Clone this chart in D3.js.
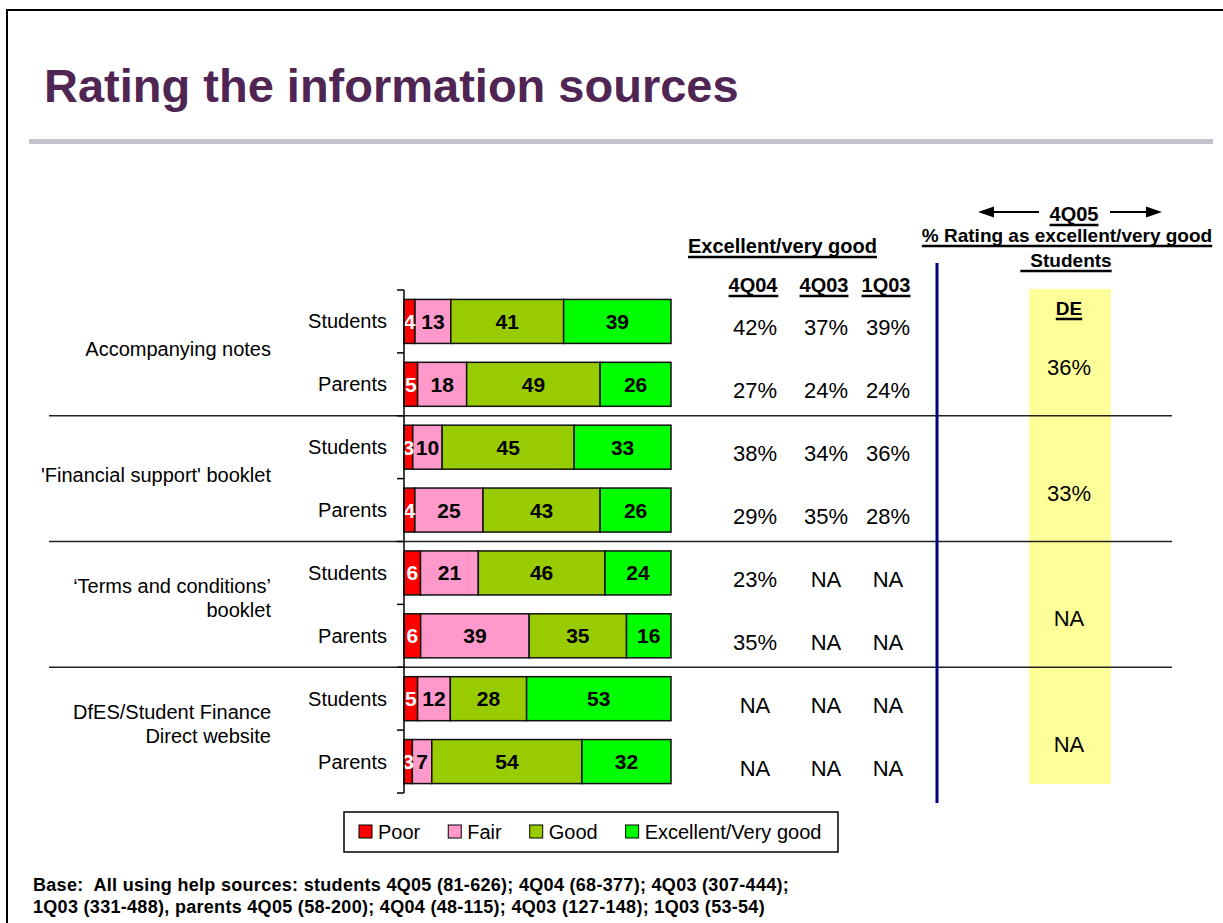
<!DOCTYPE html>
<html>
<head>
<meta charset="utf-8">
<script src="https://cdn.jsdelivr.net/npm/d3@7"></script>
<style>
  body { margin: 0; background: #fff; }
  svg { display: block; font-family: Arial, "Liberation Sans", sans-serif; }
</style>
</head>
<body>
<svg></svg>
<script>
// chart values
const sourceLines = [
  ["Accompanying notes"],
  ["'Financial support' booklet"],
  ["\u2018Terms and conditions\u2019", "booklet"],
  ["DfES/Student Finance", "Direct website"]
];
const respondents = ["Students", "Parents"];
const ratings = ["Poor", "Fair", "Good", "Excellent/Very good"];
const poor = [4, 5, 3, 4, 6, 6, 5, 3];
const fair = [13, 18, 10, 25, 21, 39, 12, 7];
const good = [41, 49, 45, 43, 46, 35, 28, 54];
const excellent = [39, 26, 33, 26, 24, 16, 53, 32];

const waves = ["4Q04", "4Q03", "1Q03"];
const wave4Q04 = ["42%", "27%", "38%", "29%", "23%", "35%", "NA", "NA"];
const wave4Q03 = ["37%", "24%", "34%", "35%", "NA", "NA", "NA", "NA"];
const wave1Q03 = ["39%", "24%", "36%", "28%", "NA", "NA", "NA", "NA"];
const studentsDE = ["36%", "33%", "NA", "NA"];

const footnote = [
  "Base:\u00a0 All using help sources: students 4Q05 (81-626); 4Q04 (68-377); 4Q03 (307-444);",
  "1Q03 (331-488), parents 4Q05 (58-200); 4Q04 (48-115); 4Q03 (127-148); 1Q03 (53-54)"
];

const width = 1223;
const height = 923;

const svg = d3.select('svg')
  .attr('width', width)
  .attr('height', height);

// slide frame
svg.append('path')
  .attr('d', `M7,${height + 5}V10H${width + 5}`)
  .attr('fill', 'none')
  .attr('stroke', '#000')
  .attr('stroke-width', 2);

svg.append('text')
  .attr('x', 44)
  .attr('y', 102)
  .attr('fill', '#4f2553')
  .attr('font-size', 47)
  .attr('font-weight', 'bold')
  .text('Rating the information sources');

svg.append('rect')
  .attr('x', 29)
  .attr('y', 139)
  .attr('width', 1184)
  .attr('height', 5)
  .attr('fill', '#c2c2cc');

const rows = poor.map((p, i) => ({
  row: i,
  group: Math.floor(i / 2),
  who: respondents[i % 2],
  "Poor": p,
  "Fair": fair[i],
  "Good": good[i],
  "Excellent/Very good": excellent[i]
}));

const x = d3.scaleLinear().domain([0, 1]).range([404, 671]);
const y = d3.scaleBand()
  .domain(d3.range(rows.length))
  .range([290, 793])
  .paddingInner(0.3)
  .paddingOuter(0.15);
const color = d3.scaleOrdinal()
  .domain(ratings)
  .range(['#ff0000', '#ff99cc', '#99cc00', '#00ff00']);

const series = d3.stack().keys(ratings).offset(d3.stackOffsetExpand)(rows);

const y0 = y.range()[0];
const bounds = d3.range(rows.length + 1).map(i => y0 + i * y.step());
const groupMid = d3.range(sourceLines.length).map(g => (bounds[2 * g] + bounds[2 * g + 2]) / 2);
const rowMid = i => y(i) + y.bandwidth() / 2;

// group separators
svg.append('g')
  .selectAll('line')
  .data([2, 4, 6])
  .enter()
  .append('line')
  .attr('x1', 49)
  .attr('x2', 1172)
  .attr('y1', d => bounds[d])
  .attr('y2', d => bounds[d])
  .attr('stroke', '#222')
  .attr('stroke-width', 1.5);

// yellow DE column
svg.append('rect')
  .attr('x', 1029)
  .attr('y', 289)
  .attr('width', 82)
  .attr('height', 495)
  .attr('fill', '#ffff99');

// redraw separators over the yellow box
svg.append('g')
  .selectAll('line')
  .data([2, 4, 6])
  .enter()
  .append('line')
  .attr('x1', 1029)
  .attr('x2', 1111)
  .attr('y1', d => bounds[d])
  .attr('y2', d => bounds[d])
  .attr('stroke', '#222')
  .attr('stroke-width', 1.5);

// bars
const barGroup = svg.append('g');
barGroup.selectAll('g')
  .data(series)
  .enter()
  .append('g')
  .attr('fill', d => color(d.key))
  .selectAll('rect')
  .data(d => d)
  .enter()
  .append('rect')
  .attr('x', d => x(d[0]))
  .attr('y', d => y(d.data.row))
  .attr('width', d => x(d[1]) - x(d[0]))
  .attr('height', y.bandwidth())
  .attr('stroke', '#111')
  .attr('stroke-width', 1.5);

const labelGroup = svg.append('g')
  .attr('font-size', 21)
  .attr('font-weight', 'bold')
  .attr('text-anchor', 'middle');
series.forEach(s => {
  labelGroup.selectAll(null)
    .data(s)
    .enter()
    .append('text')
    .attr('x', d => (x(d[0]) + x(d[1])) / 2)
    .attr('y', d => rowMid(d.data.row) + 7.5)
    .attr('fill', s.key === 'Poor' ? '#fff' : '#000')
    .text(d => d.data[s.key]);
});

// category axis
const axis = svg.append('g').attr('stroke', '#000').attr('stroke-width', 1.5);
axis.append('line')
  .attr('x1', 404).attr('x2', 404)
  .attr('y1', bounds[0]).attr('y2', bounds[bounds.length - 1]);
axis.selectAll('line.tick')
  .data(bounds)
  .enter()
  .append('line')
  .classed('tick', true)
  .attr('x1', 397).attr('x2', 404)
  .attr('y1', d => d).attr('y2', d => d);

svg.append('g')
  .attr('font-size', 20)
  .attr('text-anchor', 'end')
  .selectAll('text')
  .data(rows)
  .enter()
  .append('text')
  .attr('x', 387)
  .attr('y', d => rowMid(d.row) + 7)
  .text(d => d.who);

const sourceText = svg.append('g')
  .attr('font-size', 20)
  .attr('text-anchor', 'end')
  .selectAll('text')
  .data(sourceLines)
  .enter()
  .append('text')
  .attr('x', 271)
  .attr('y', (d, i) => groupMid[i] + 3 - (d.length - 1) * 14);
sourceText.selectAll('tspan')
  .data(d => d)
  .enter()
  .append('tspan')
  .attr('x', 271)
  .attr('dy', (d, i) => i === 0 ? 0 : 24)
  .text(d => d);

// underline helper for the bold headings
function underlined(sel, extraLeft) {
  sel.each(function() {
    const b = this.getBBox();
    const base = +d3.select(this).attr('y');
    d3.select(this.parentNode).append('line')
      .attr('x1', b.x - (extraLeft || 0))
      .attr('x2', b.x + b.width)
      .attr('y1', base + 4)
      .attr('y2', base + 4)
      .attr('stroke', '#000')
      .attr('stroke-width', 2.5);
  });
}

// trend table
const table = svg.append('g').attr('font-weight', 'bold');
table.append('text')
  .attr('x', 688)
  .attr('y', 253)
  .attr('font-size', 20)
  .text('Excellent/very good')
  .call(underlined);

const colX = [755, 826, 888];
table.selectAll('text.wave')
  .data(waves)
  .enter()
  .append('text')
  .classed('wave', true)
  .attr('x', (d, i) => colX[i] - 2)
  .attr('y', 292)
  .attr('font-size', 20)
  .attr('text-anchor', 'middle')
  .text(d => d)
  .call(underlined);

const waveValues = [wave4Q04, wave4Q03, wave1Q03];
waveValues.forEach((vals, c) => {
  svg.append('g')
    .attr('font-size', 22)
    .attr('text-anchor', 'middle')
    .selectAll('text')
    .data(vals)
    .enter()
    .append('text')
    .attr('x', colX[c])
    .attr('y', (d, i) => rowMid(i) + 14)
    .text(d => d);
});

svg.append('line')
  .attr('x1', 937).attr('x2', 937)
  .attr('y1', 263).attr('y2', 803)
  .attr('stroke', '#000080')
  .attr('stroke-width', 3);

// 4Q05 panel
const panel = svg.append('g').attr('font-weight', 'bold').attr('text-anchor', 'middle');
panel.append('text')
  .attr('x', 1074).attr('y', 221)
  .attr('font-size', 20)
  .text('4Q05')
  .call(underlined);

const arrows = panel.append('g').attr('stroke', '#000').attr('stroke-width', 2);
arrows.append('line').attr('x1', 992).attr('x2', 1039).attr('y1', 212).attr('y2', 212);
arrows.append('line').attr('x1', 1110).attr('x2', 1148).attr('y1', 212).attr('y2', 212);
panel.append('path').attr('d', 'M978,212L994,206.5V217.5Z').attr('fill', '#000');
panel.append('path').attr('d', 'M1162,212L1146,206.5V217.5Z').attr('fill', '#000');

panel.append('text')
  .attr('x', 1067).attr('y', 242)
  .attr('font-size', 19)
  .text('% Rating as excellent/very good')
  .call(underlined);
panel.append('text')
  .attr('x', 1071).attr('y', 267)
  .attr('font-size', 19)
  .text('Students')
  .call(underlined, 10);
panel.append('text')
  .attr('x', 1069).attr('y', 315)
  .attr('font-size', 19)
  .text('DE')
  .call(underlined);

svg.append('g')
  .attr('font-size', 22)
  .attr('text-anchor', 'middle')
  .selectAll('text')
  .data(studentsDE)
  .enter()
  .append('text')
  .attr('x', 1069)
  .attr('y', (d, i) => groupMid[i] + 22)
  .text(d => d);

// legend
const legend = svg.append('g');
legend.append('rect')
  .attr('x', 344).attr('y', 812)
  .attr('width', 494).attr('height', 40)
  .attr('fill', '#fff')
  .attr('stroke', '#000')
  .attr('stroke-width', 1.5);
let lx = 359;
ratings.forEach(r => {
  legend.append('rect')
    .attr('x', lx).attr('y', 825)
    .attr('width', 13).attr('height', 13)
    .attr('fill', color(r))
    .attr('stroke', '#000')
    .attr('stroke-width', 1);
  const t = legend.append('text')
    .attr('x', lx + 19).attr('y', 839)
    .attr('font-size', 20)
    .text(r);
  lx += 19 + t.node().getComputedTextLength() + 28;
});

svg.append('g')
  .attr('font-size', 18)
  .attr('font-weight', 'bold')
  .attr('letter-spacing', 0.3)
  .selectAll('text')
  .data(footnote)
  .enter()
  .append('text')
  .attr('x', 33)
  .attr('y', (d, i) => 891 + i * 22)
  .text(d => d);
</script>
</body>
</html>
